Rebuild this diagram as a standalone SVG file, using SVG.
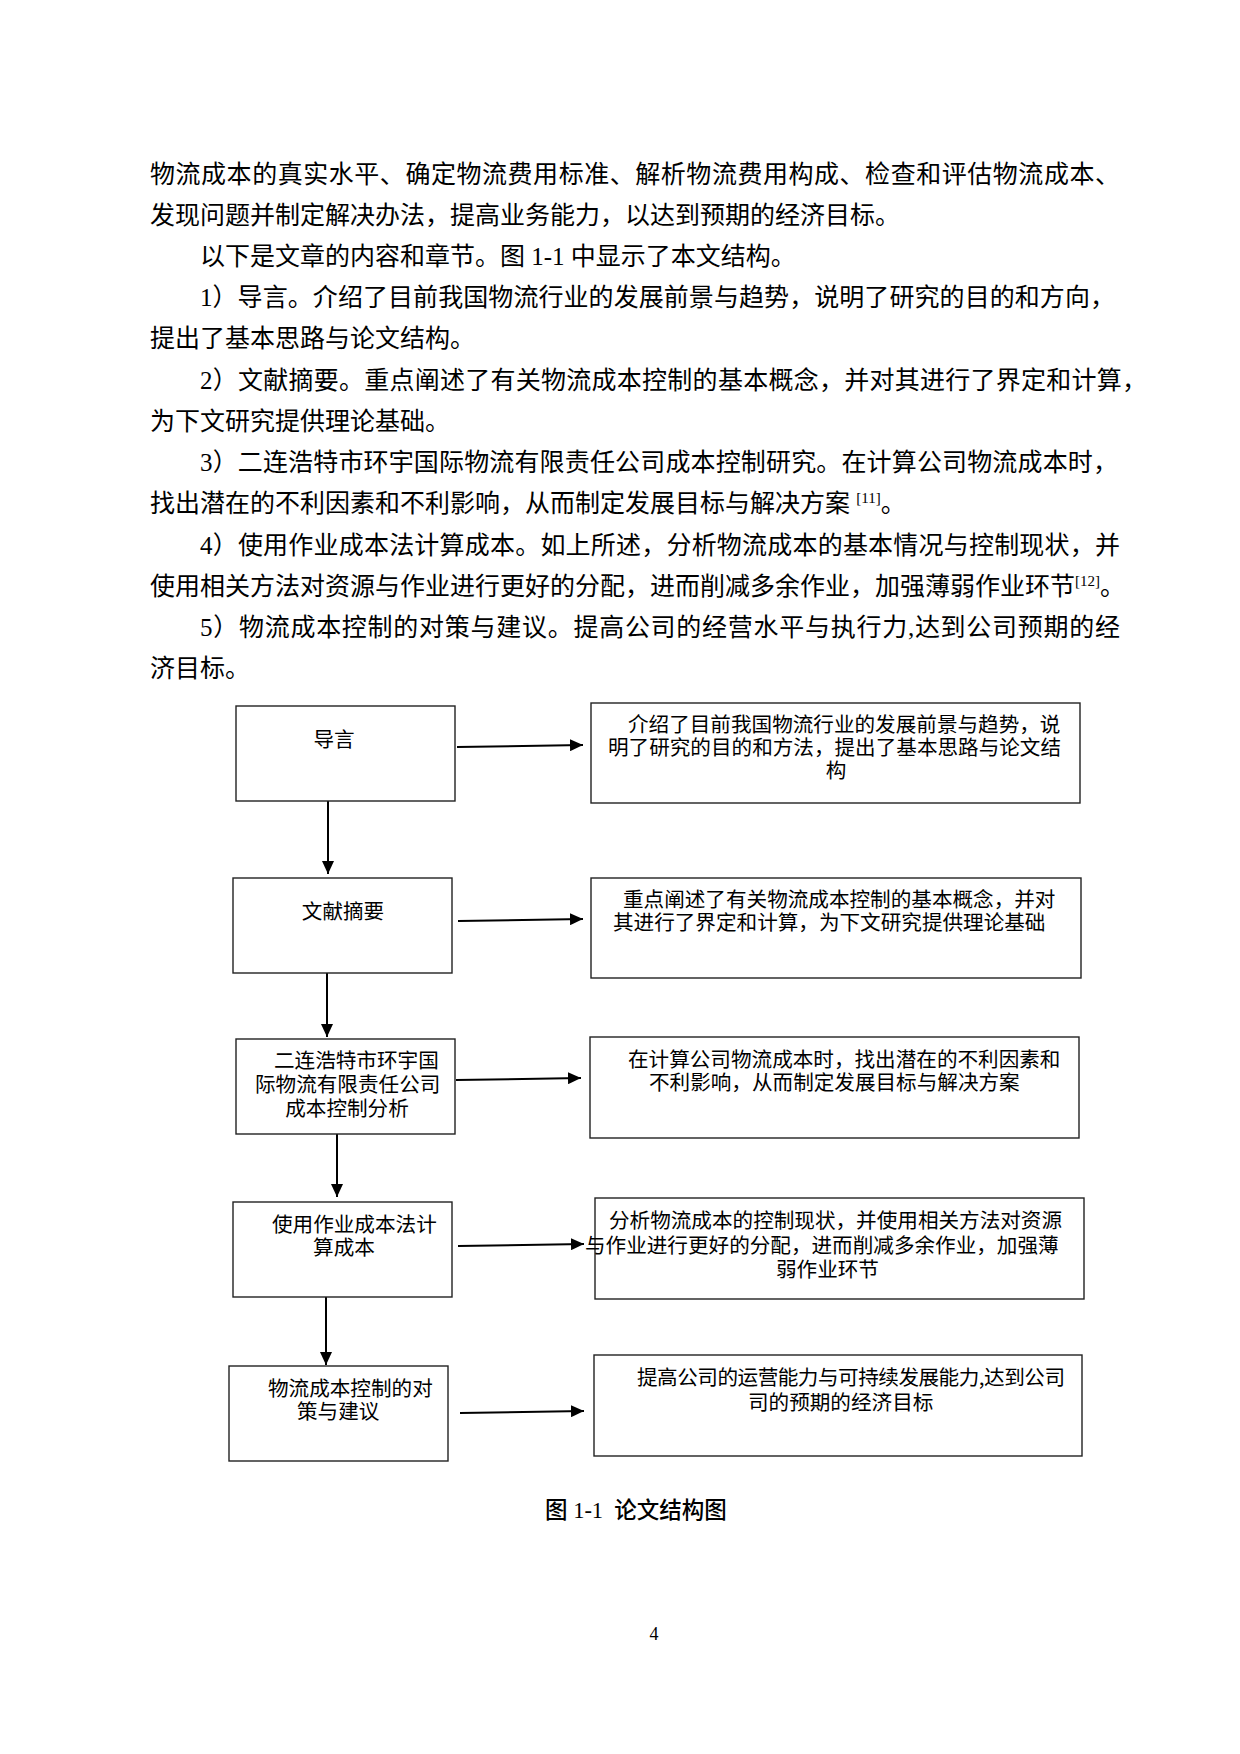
<svg xmlns="http://www.w3.org/2000/svg" width="1240" height="1754" viewBox="0 0 1240 1754">
<style>
  .body { font-family: "Liberation Serif", "Noto Sans CJK SC", serif; font-size: 25px; fill: #000; }
  .box { fill: #fff; stroke: #222; stroke-width: 1.4; }
  .lbl { font-family: "Noto Sans CJK SC", sans-serif; font-size: 20.6px; fill: #000; }
  .conn { stroke: #000; stroke-width: 2; fill: none; }
  .cap { font-family: "Liberation Serif", "Noto Sans CJK SC", serif; font-size: 22.5px; font-weight: 500; fill: #000; white-space: pre; }
  .pg { font-family: "Liberation Serif", serif; font-size: 18px; fill: #000; }
</style>
<defs>
  <marker id="ah" markerUnits="userSpaceOnUse" markerWidth="13" markerHeight="12" refX="13" refY="6" orient="auto">
    <path d="M0,0 L13,6 L0,12 z" fill="#000"/>
  </marker>
</defs>
<rect width="1240" height="1754" fill="#fff"/>

<g id="body-text">
  <text class="body" x="150" y="183" textLength="970" lengthAdjust="spacing">物流成本的真实水平、确定物流费用标准、解析物流费用构成、检查和评估物流成本、</text>
  <text class="body" x="150" y="224">发现问题并制定解决办法，提高业务能力，以达到预期的经济目标。</text>
  <text class="body" x="200" y="265">以下是文章的内容和章节。图 1-1 中显示了本文结构。</text>
  <text class="body" x="200" y="306" textLength="915" lengthAdjust="spacing">1）导言。介绍了目前我国物流行业的发展前景与趋势，说明了研究的目的和方向，</text>
  <text class="body" x="150" y="347">提出了基本思路与论文结构。</text>
  <text class="body" x="200" y="389" textLength="947" lengthAdjust="spacing">2）文献摘要。重点阐述了有关物流成本控制的基本概念，并对其进行了界定和计算，</text>
  <text class="body" x="150" y="430">为下文研究提供理论基础。</text>
  <text class="body" x="200" y="471" textLength="918" lengthAdjust="spacing">3）二连浩特市环宇国际物流有限责任公司成本控制研究。在计算公司物流成本时，</text>
  <text class="body" x="150" y="512">找出潜在的不利因素和不利影响，从而制定发展目标与解决方案 <tspan font-size="15" dy="-9">[11]</tspan><tspan dy="9">。</tspan></text>
  <text class="body" x="200" y="554" textLength="920" lengthAdjust="spacing">4）使用作业成本法计算成本。如上所述，分析物流成本的基本情况与控制现状，并</text>
  <text class="body" x="150" y="595">使用相关方法对资源与作业进行更好的分配，进而削减多余作业，加强薄弱作业环节<tspan font-size="15" dy="-9">[12]</tspan><tspan dy="9">。</tspan></text>
  <text class="body" x="200" y="636" textLength="920" lengthAdjust="spacing">5）物流成本控制的对策与建议。提高公司的经营水平与执行力,达到公司预期的经</text>
  <text class="body" x="150" y="677">济目标。</text>
</g>

<g id="connectors">
  <line class="conn" x1="457" y1="747" x2="583" y2="745" marker-end="url(#ah)"/>
  <line class="conn" x1="458" y1="921" x2="583" y2="919" marker-end="url(#ah)"/>
  <line class="conn" x1="456" y1="1080" x2="581" y2="1078" marker-end="url(#ah)"/>
  <line class="conn" x1="458" y1="1246" x2="584" y2="1244" marker-end="url(#ah)"/>
  <line class="conn" x1="460" y1="1413" x2="584" y2="1411" marker-end="url(#ah)"/>
  <line class="conn" x1="328" y1="801" x2="328" y2="874" marker-end="url(#ah)"/>
  <line class="conn" x1="327" y1="973" x2="327" y2="1037" marker-end="url(#ah)"/>
  <line class="conn" x1="337" y1="1134" x2="337" y2="1197" marker-end="url(#ah)"/>
  <line class="conn" x1="326" y1="1297" x2="326" y2="1365" marker-end="url(#ah)"/>
</g>

<g id="node-intro">
  <rect class="box" x="236" y="706" width="219" height="95"/>
  <text class="lbl" x="334" y="746.5" text-anchor="middle">导言</text>
</g>
<g id="node-literature">
  <rect class="box" x="233" y="878" width="219" height="95"/>
  <text class="lbl" x="343" y="918.5" text-anchor="middle">文献摘要</text>
</g>
<g id="node-company">
  <rect class="box" x="236" y="1039" width="219" height="95"/>
  <text class="lbl" x="274" y="1067.5">二连浩特市环宇国</text>
  <text class="lbl" x="255" y="1092">际物流有限责任公司</text>
  <text class="lbl" x="347" y="1116" text-anchor="middle">成本控制分析</text>
</g>
<g id="node-abc">
  <rect class="box" x="233" y="1202" width="219" height="95"/>
  <text class="lbl" x="272" y="1231.5">使用作业成本法计</text>
  <text class="lbl" x="344" y="1254.5" text-anchor="middle">算成本</text>
</g>
<g id="node-measures">
  <rect class="box" x="229" y="1366" width="219" height="95"/>
  <text class="lbl" x="268" y="1395.5">物流成本控制的对</text>
  <text class="lbl" x="297" y="1418.5">策与建议</text>
</g>

<g id="desc-intro">
  <rect class="box" x="591" y="703" width="489" height="100"/>
  <text class="lbl" x="628" y="731.5">介绍了目前我国物流行业的发展前景与趋势，说</text>
  <text class="lbl" x="608" y="754.5">明了研究的目的和方法，提出了基本思路与论文结</text>
  <text class="lbl" x="836" y="777.5" text-anchor="middle">构</text>
</g>
<g id="desc-literature">
  <rect class="box" x="591" y="878" width="490" height="100"/>
  <text class="lbl" x="623" y="906.5">重点阐述了有关物流成本控制的基本概念，并对</text>
  <text class="lbl" x="613" y="929.5">其进行了界定和计算，为下文研究提供理论基础</text>
</g>
<g id="desc-company">
  <rect class="box" x="590" y="1037" width="489" height="101"/>
  <text class="lbl" x="628" y="1066.5">在计算公司物流成本时，找出潜在的不利因素和</text>
  <text class="lbl" x="649" y="1089.5">不利影响，从而制定发展目标与解决方案</text>
</g>
<g id="desc-abc">
  <rect class="box" x="595" y="1198" width="489" height="101"/>
  <text class="lbl" x="609" y="1227.5">分析物流成本的控制现状，并使用相关方法对资源</text>
  <text class="lbl" x="585" y="1252.5">与作业进行更好的分配，进而削减多余作业，加强薄</text>
  <text class="lbl" x="776" y="1276.5">弱作业环节</text>
</g>
<g id="desc-measures">
  <rect class="box" x="594" y="1355" width="488" height="101"/>
  <text class="lbl" x="637" y="1384.5" textLength="428" lengthAdjust="spacing">提高公司的运营能力与可持续发展能力,达到公司</text>
  <text class="lbl" x="748" y="1409.5">司的预期的经济目标</text>
</g>

<g id="caption">
  <text class="cap" x="545" y="1518" xml:space="preserve">图 1-1  论文结构图</text>
  <text class="pg" x="654" y="1640" text-anchor="middle">4</text>
</g>
</svg>
